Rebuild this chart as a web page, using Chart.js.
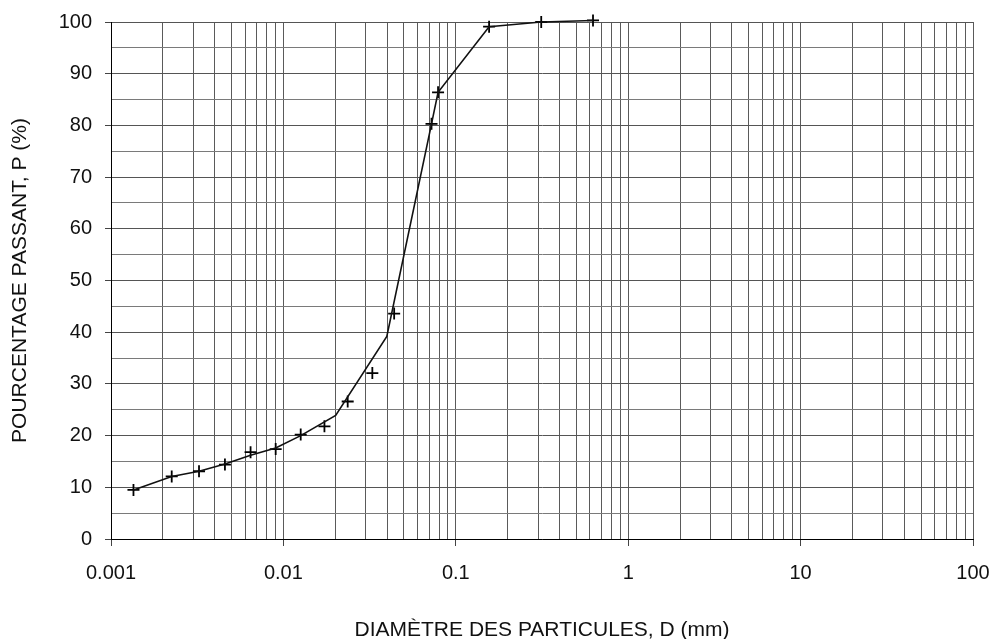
<!DOCTYPE html>
<html>
<head>
<meta charset="utf-8">
<script src="https://cdn.jsdelivr.net/npm/chart.js@4"></script>
<style>
  html, body { margin: 0; padding: 0; background: #fff; }
  #wrap { width: 993px; height: 639px; }
</style>
</head>
<body>
<div id="wrap"><canvas id="grading"></canvas></div>
<script>
// measured points (crosses)
var sieveD = [0.00135, 0.00225, 0.00324, 0.00458, 0.00645, 0.00902, 0.0126, 0.0173, 0.0236, 0.0328, 0.0439, 0.0723, 0.0789, 0.156, 0.313, 0.625];
var passP = [9.5, 12.1, 13.1, 14.4, 16.8, 17.4, 20.2, 21.8, 26.6, 32.1, 43.6, 80.3, 86.4, 99.1, 100, 100.3];

// drawn curve
var curveD = [0.00135, 0.00225, 0.00324, 0.00458, 0.00645, 0.00902, 0.0126, 0.0201, 0.0398, 0.0723, 0.0789, 0.156, 0.313, 0.625];
var curveP = [9.5, 12.1, 13.1, 14.5, 16.2, 17.6, 20.0, 23.9, 39.2, 80.3, 86.4, 99.1, 100, 100.3];

// axis ticks
var xDecades = [0.001, 0.01, 0.1, 1, 10, 100];
var xDecadeLabels = ['0.001', '0.01', '0.1', '1', '10', '100'];

function pts(xs, ys) {
    return xs.map(function(x, i) { return { x: x, y: ys[i] }; });
}

function decadeIndex(v) {
    for (var i = 0; i < xDecades.length; i++) {
        if (Math.abs(v / xDecades[i] - 1) < 1e-6) return i;
    }
    return -1;
}

var fam = '"Liberation Sans", Arial, sans-serif';
var tickFont = { family: fam, size: 20 };
var titleFont = { family: fam, size: 21, lineHeight: 1 };

new Chart(document.getElementById('grading'), {
    type: 'scatter',
    data: {
        datasets: [{
            label: 'courbe',
            data: pts(curveD, curveP),
            showLine: true,
            borderColor: '#111',
            borderWidth: 1.6,
            pointRadius: 0,
            tension: 0,
            clip: false
        }, {
            label: 'points',
            data: pts(sieveD, passP),
            showLine: false,
            pointStyle: 'cross',
            pointRadius: 6,
            borderColor: '#000',
            borderWidth: 1.8,
            clip: false
        }]
    },
    options: {
        responsive: true,
        maintainAspectRatio: false,
        animation: false,
        layout: { padding: { top: 22, right: 20, left: 0, bottom: 0 } },
        plugins: { legend: { display: false }, tooltip: { enabled: false } },
        scales: {
            x: {
                type: 'logarithmic',
                min: 0.001,
                max: 100,
                border: { color: '#000', width: 1 },
                grid: {
                    color: '#5a5a5a',
                    lineWidth: 1,
                    tickLength: 7,
                    tickColor: function(ctx) {
                        return decadeIndex(ctx.tick.value) >= 0 ? '#444' : 'rgba(0,0,0,0)';
                    }
                },
                afterBuildTicks: function(axis) {
                    var t = [];
                    for (var i = 0; i < xDecades.length - 1; i++) {
                        for (var k = 1; k <= 9; k++) t.push({ value: k * xDecades[i] });
                    }
                    t.push({ value: xDecades[xDecades.length - 1] });
                    axis.ticks = t;
                },
                afterFit: function(axis) {
                    axis.height = 100;
                    axis.paddingRight = 0;
                    axis.paddingLeft = 0;
                },
                ticks: {
                    autoSkip: false,
                    maxRotation: 0,
                    padding: 15,
                    color: '#111',
                    font: tickFont,
                    callback: function(v) {
                        var i = decadeIndex(v);
                        return i >= 0 ? xDecadeLabels[i] : '';
                    }
                },
                title: {
                    display: true,
                    text: 'DIAMÈTRE DES PARTICULES, D (mm)',
                    color: '#111',
                    font: titleFont,
                    padding: { top: 0, bottom: -2 }
                }
            },
            y: {
                min: 0,
                max: 100,
                border: { color: '#000', width: 1 },
                grid: {
                    color: function(ctx) {
                        return ctx.tick && ctx.tick.value % 10 === 0 ? '#555' : '#7a7a7a';
                    },
                    lineWidth: 1,
                    tickLength: 6,
                    tickColor: function(ctx) {
                        return ctx.tick.value % 10 === 0 ? '#444' : 'rgba(0,0,0,0)';
                    }
                },
                afterFit: function(axis) {
                    axis.width = 111;
                    axis.paddingTop = 0;
                    axis.paddingBottom = 0;
                },
                ticks: {
                    stepSize: 5,
                    autoSkip: false,
                    padding: 13,
                    color: '#111',
                    font: tickFont,
                    callback: function(v) { return v % 10 === 0 ? v : ''; }
                },
                title: {
                    display: true,
                    text: 'POURCENTAGE PASSANT, P (%)',
                    color: '#111',
                    font: titleFont,
                    padding: { top: 10, bottom: 0 }
                }
            }
        }
    }
});
</script>
</body>
</html>
